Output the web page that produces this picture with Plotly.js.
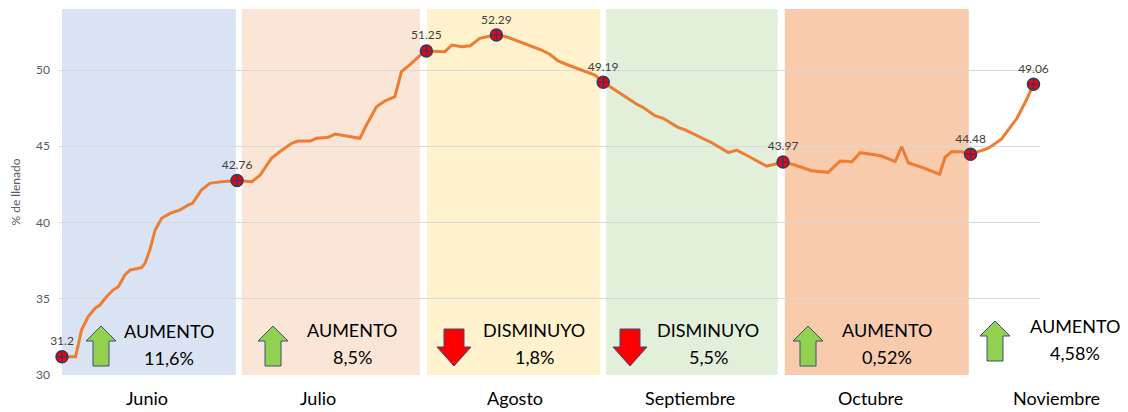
<!DOCTYPE html>
<html><head><meta charset="utf-8">
<script src="https://cdn.plot.ly/plotly-3.0.1.min.js"></script>
<style>html,body{margin:0;padding:0;background:#fff}#chart{width:1128px;height:412px}</style>
</head><body><div id="chart"></div>
<script>
// ---- data ----
// x = days since 1 June, y = % de llenado
const days = [0, 2.3, 3.3, 4.4, 5.6, 6.4, 7.5, 8.6, 9.5, 10.6, 11.5, 13.4, 14.0, 14.8, 15.7, 16.8, 18.2, 19.9, 21.3, 22.0, 23.5, 24.9, 26.9, 29.5,
  32.0, 33.4, 35.3, 36.7, 38.7, 39.8, 41.8, 42.9, 44.9, 46.0, 50.2, 51.3, 53.0, 54.4, 56.1, 57.2, 58.6, 60.6, 61.4,
  64.5, 65.7, 67.4, 68.8, 70.4, 71.6, 73.2, 74.9, 76.9, 79.1, 80.8, 82.2, 83.6, 85.6, 87.6, 89.8, 91.2,
  94.0, 95.4, 96.8, 97.9, 99.9, 101.3, 103.8, 105.0, 107.8, 109.5, 112.3, 113.7, 115.6, 118.7, 120.1, 121.5,
  123.5, 126.3, 129.1, 131.1, 133.1, 134.5, 136.4, 138.1, 140.4, 141.5, 142.6, 145.4, 147.9, 148.8, 149.9, 151.6, 153.1,
  154.4, 156.1, 158.3, 160.9, 162.5, 163.7];
const fill = [31.2, 31.2, 32.95, 33.82, 34.39, 34.59, 35.13, 35.57, 35.79, 36.56, 36.89, 37.04, 37.32, 38.2, 39.51, 40.28, 40.6, 40.82, 41.15, 41.26, 42.13, 42.57, 42.68, 42.76,
  42.68, 43.11, 44.21, 44.64, 45.19, 45.34, 45.34, 45.52, 45.59, 45.8, 45.52, 46.39, 47.59, 47.97, 48.25, 49.89, 50.33, 51.05, 51.25,
  51.2, 51.64, 51.53, 51.59, 52.08, 52.18, 52.29, 52.18, 51.9, 51.59, 51.31, 51.03, 50.59, 50.28, 50.0, 49.67, 49.19,
  48.47, 48.14, 47.77, 47.55, 47.0, 46.83, 46.24, 46.07, 45.52, 45.23, 44.58, 44.75, 44.36, 43.7, 43.82, 43.97,
  43.77, 43.4, 43.29, 44.03, 43.99, 44.58, 44.47, 44.36, 43.99, 44.97, 43.92, 43.55, 43.16, 44.28, 44.64, 44.64, 44.48,
  44.64, 44.87, 45.46, 46.83, 48.03, 49.06];
const keyDays = [0, 29.5, 61.4, 73.2, 91.2, 121.5, 153.1, 163.7];
const keyValues = [31.2, 42.76, 51.25, 52.29, 49.19, 43.97, 44.48, 49.06];
const keyLabels = ['31.2', '42.76', '51.25', '52.29', '49.19', '43.97', '44.48', '49.06'];
const months = ['Junio', 'Julio', 'Agosto', 'Septiembre', 'Octubre', 'Noviembre'];
const bandFrom = [0, 30.3, 61.5, 91.7, 121.8, 154.3];
const bandTo = [29.3, 60.3, 90.7, 120.6, 152.8, 163.0];
const changeWord = ['AUMENTO', 'AUMENTO', 'DISMINUYO', 'DISMINUYO', 'AUMENTO', 'AUMENTO'];
const changePct = ['11,6%', '8,5%', '1,8%', '5,5%', '0,52%', '4,58%'];
const direction = ['up', 'up', 'down', 'down', 'up', 'up'];
const yTicks = [30, 35, 40, 45, 50];

// ---- styling / layout ----
const bandColors = ['#dae3f3', '#fbe5d6', '#fff2cc', '#e2efda', '#f8cbad', '#ffffff'];
const W = 1128, H = 412, L = 59, R = 88, T = 9, B = 37;
const pw = W - L - R, ph = H - T - B;
const px = x => (x - L) / pw;
const py = y => (H - B - y) / ph;
const labelX = [147, 318, 515, 690, 870, 1056];
const wordX = [169, 352, 534, 708, 887, 1075];
const wordY = [331, 330, 330, 330, 330, 326];
const arrowX = [101, 273, 454, 630, 808, 995];
const arrowY = [346, 346, 347, 347, 346, 341];
const FONT = 'Lato, "Open Sans", sans-serif';

const upPath = 'M0,20 L15,5 L8,5 L8,-20 L-8,-20 L-8,5 L-15,5 Z';
const downPath = 'M-10,18 L10,18 L10,0 L17,0 L0,-19 L-17,0 L-10,0 Z';

const shapes = [];
months.forEach((m, i) => {
  shapes.push({type: 'rect', layer: 'between', xref: 'x', yref: 'paper',
    x0: bandFrom[i], x1: bandTo[i], y0: 0, y1: 1,
    fillcolor: bandColors[i], line: {width: 0}});
});
months.forEach((m, i) => {
  const up = direction[i] === 'up';
  shapes.push({type: 'path', layer: 'above', xref: 'paper', yref: 'paper',
    xsizemode: 'pixel', ysizemode: 'pixel',
    xanchor: px(arrowX[i]), yanchor: py(arrowY[i]),
    path: up ? upPath : downPath,
    fillcolor: up ? '#92d050' : '#ff0000',
    line: {color: '#3b4e7a', width: 1}});
});

const annotations = [];
months.forEach((m, i) => {
  annotations.push({xref: 'paper', yref: 'paper', x: px(labelX[i]), y: py(398),
    text: m, showarrow: false, xanchor: 'center', yanchor: 'middle',
    font: {family: FONT, size: 18, color: '#000000'}});
  annotations.push({xref: 'paper', yref: 'paper', x: px(wordX[i]), y: py(wordY[i]),
    text: changeWord[i], showarrow: false, xanchor: 'center', yanchor: 'middle',
    font: {family: FONT, size: 18, color: '#000000'}});
  annotations.push({xref: 'paper', yref: 'paper', x: px(wordX[i]), y: py(wordY[i] + 27),
    text: changePct[i], showarrow: false, xanchor: 'center', yanchor: 'middle',
    font: {family: FONT, size: 18, color: '#000000'}});
});

const traces = [
  {x: days, y: fill, type: 'scatter', mode: 'lines',
   line: {color: '#ed7d31', width: 3}, hoverinfo: 'skip', cliponaxis: false},
  {x: keyDays, y: keyValues, type: 'scatter', mode: 'markers+text',
   text: keyLabels, textposition: 'top center',
   textfont: {family: FONT, size: 12, color: '#404040'},
   marker: {symbol: 'circle-cross', size: 12, color: '#ff0000', line: {color: '#2f3a6b', width: 1.5}},
   cliponaxis: false}
];

const layout = {
  width: W, height: H,
  margin: {l: L, r: R, t: T, b: B, pad: 0},
  paper_bgcolor: '#ffffff', plot_bgcolor: '#ffffff',
  showlegend: false,
  font: {family: FONT},
  xaxis: {range: [-0.5, 164.8], showgrid: false, zeroline: false, showticklabels: false, ticks: '', showline: false},
  yaxis: {range: [30, 54], tickvals: yTicks, ticktext: yTicks.map(String),
    showgrid: true, gridcolor: '#d9d9d9', gridwidth: 1, zeroline: false, showline: false,
    ticks: '', ticklabelstandoff: 8,
    tickfont: {family: FONT, size: 12, color: '#595959'},
    title: {text: '% de llenado', font: {family: FONT, size: 12, color: '#595959'}, standoff: 12}},
  shapes: shapes,
  annotations: annotations
};

Plotly.newPlot('chart', traces, layout, {displayModeBar: false, staticPlot: true});
</script>
</body></html>
